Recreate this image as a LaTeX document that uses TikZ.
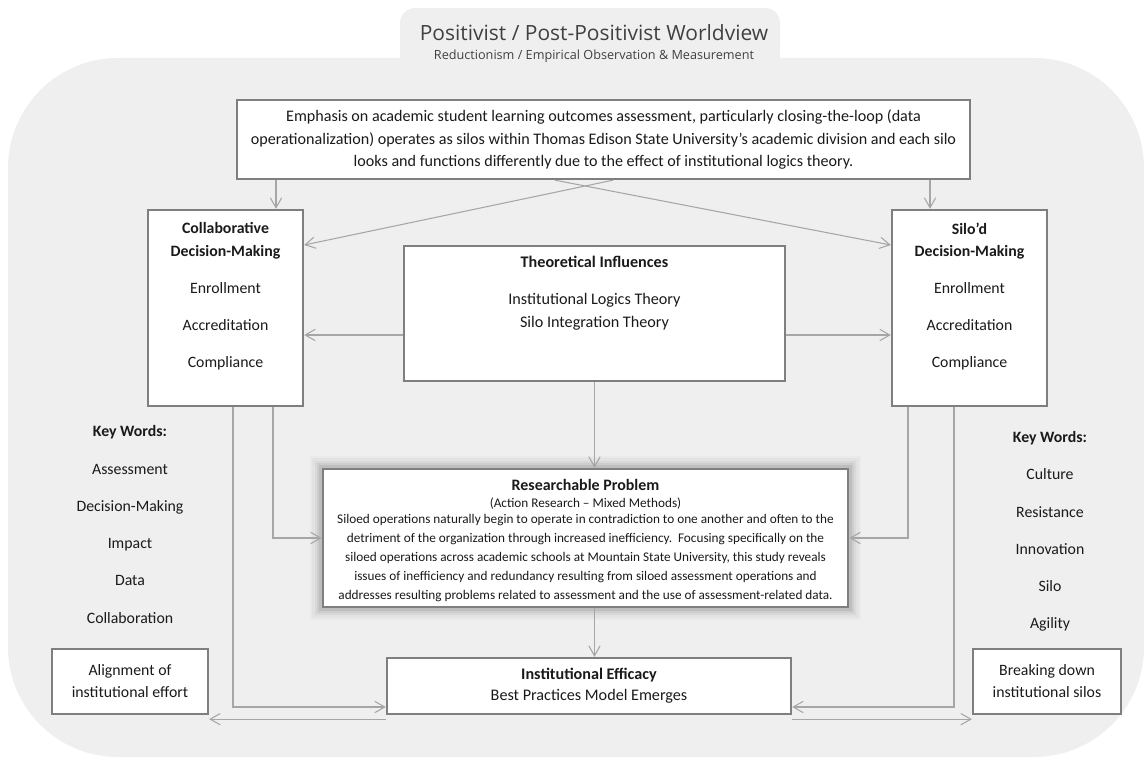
\documentclass[tikz,border=0pt]{standalone}
\usepackage{fontspec}
\setmainfont{Carlito}
\newfontfamily\headfont{Open Sans}
\usetikzlibrary{arrows.meta,positioning,calc}

\definecolor{bggray}{HTML}{EFEFEF}
\definecolor{framegray}{HTML}{7F7F7F}
\definecolor{linegray}{HTML}{A6A6A6}
\definecolor{txtgray}{HTML}{1A1A1A}
\definecolor{headgray}{HTML}{404040}

\tikzset{
  box/.style={draw=framegray, line width=2pt, fill=white, text=txtgray, align=center, inner sep=0pt},
  arr/.style={draw=linegray, line width=0.9pt, -{Straight Barb[length=3mm,width=3.4mm]}},
  shadowed/.style={preaction={draw=black, draw opacity=0.02, line width=22pt},
                   preaction={draw=black, draw opacity=0.03, line width=18pt},
                   preaction={draw=black, draw opacity=0.04, line width=14pt},
                   preaction={draw=black, draw opacity=0.05, line width=10pt},
                   preaction={draw=black, draw opacity=0.07, line width=6pt}},
  keys/.style={align=center, text=txtgray, font=\fontsize{13.5}{31.8}\selectfont}
}

\begin{document}
\begin{tikzpicture}[x=0.03cm, y=0.03cm]
  \useasboundingbox (0,0) rectangle (1144,-765);
  % background
  \fill[bggray, rounded corners=0.45cm] (400,-70) rectangle (780,-8);
  \fill[bggray, rounded corners=3.3cm] (8,-58) rectangle (1144,-757);

  \node (title) [font=\headfont\fontsize{17.9}{21}\selectfont, text=headgray] at (594,-33) {Positivist / Post-Positivist Worldview};
  \node (subtitle) [font=\headfont\fontsize{10.8}{12}\selectfont, text=headgray] at (594,-56) {Reductionism / Empirical Observation \& Measurement};

  % boxes
  \node (top) [box, minimum width=22cm, minimum height=2.37cm, font=\fontsize{13.75}{18.8}\selectfont] at (603.5,-139.5)
    {Emphasis on academic student learning outcomes assessment, particularly closing-the-loop (data\\
     operationalization) operates as silos within Thomas Edison State University’s academic division and each silo\\
     looks and functions differently due to the effect of institutional logics theory.};

  \node (collab) [box, minimum width=4.65cm, minimum height=5.88cm] at (225.5,-308)
    {\parbox[c][5.6cm][t]{4.5cm}{\centering\fontsize{13.5}{18.8}\selectfont\vspace*{7pt}
     \textbf{Collaborative}\\ \textbf{Decision-Making}\\[12.8pt] Enrollment\\[12.8pt] Accreditation\\[12.8pt] Compliance}};

  \node (silod) [box, minimum width=4.65cm, minimum height=5.88cm] at (969.5,-308)
    {\parbox[c][5.6cm][t]{4.5cm}{\centering\fontsize{13.5}{18.8}\selectfont\vspace*{7pt}
     \textbf{Silo’d}\\ \textbf{Decision-Making}\\[12.8pt] Enrollment\\[12.8pt] Accreditation\\[12.8pt] Compliance}};

  \node (theory) [box, minimum width=11.43cm, minimum height=4.05cm] at (594.5,-313.5)
    {\parbox[c][3.8cm][t]{11cm}{\centering\fontsize{13.8}{19.6}\selectfont\vspace*{5pt}
     \textbf{Theoretical Influences}\\[12pt] Institutional Logics Theory\\ Silo Integration Theory}};

  \node (research) [box, shadowed, minimum width=15.75cm, minimum height=4.14cm] at (585.5,-538)
    {\parbox[c][3.9cm][t]{15.5cm}{\centering\fontsize{11.3}{16.2}\selectfont\vspace*{5pt}
     {\fontsize{13.6}{14}\selectfont\textbf{Researchable Problem}}\\[-1pt]
     (Action Research – Mixed Methods)\\[-3pt]
     Siloed operations naturally begin to operate in contradiction to one another and often to the\\
     detriment of the organization through increased inefficiency.\ \ Focusing specifically on the\\
     siloed operations across academic schools at Mountain State University, this study reveals\\
     issues of inefficiency and redundancy resulting from siloed assessment operations and\\
     addresses resulting problems related to assessment and the use of assessment-related data.}};

  \node (efficacy) [box, minimum width=12.12cm, minimum height=1.68cm, font=\fontsize{13.8}{18}\selectfont] at (589,-686)
    {\textbf{Institutional Efficacy}\\ Best Practices Model Emerges};

  \node (align) [box, minimum width=4.68cm, minimum height=1.95cm, font=\fontsize{13.5}{18.8}\selectfont] at (130,-681.5)
    {Alignment of\\ institutional effort};
  \node (breaking) [box, minimum width=4.44cm, minimum height=1.95cm, font=\fontsize{13.5}{18.8}\selectfont] at (1047,-681.5)
    {Breaking down\\ institutional silos};

  % key words
  \node (keysL) [keys] at (130,-524.5) {\textbf{Key Words:}\\ Assessment\\ Decision-Making\\ Impact\\ Data\\ Collaboration};
  \node (keysR) [keys] at (1050,-531.5) {\textbf{Key Words:}\\ Culture\\ Resistance\\ Innovation\\ Silo\\ Agility};

  % connectors
  \coordinate (c1) at ($(collab.north)+(50.5,0)$);
  \coordinate (c2) at ($(silod.north)+(-39.5,0)$);
  \draw[arr] (top.south -| c1) -- (c1);
  \draw[arr] (top.south -| c2) -- (c2);
  \draw[arr] ($(top.south)+(9.5,0)$) -- ($(collab.east)+(0,63)$);
  \draw[arr] ($(top.south)+(-48.5,0)$) -- ($(silod.west)+(0,63)$);

  \coordinate (tw) at ($(theory.west)+(0,-21.5)$);
  \coordinate (te) at ($(theory.east)+(0,-21.5)$);
  \draw[arr] (tw) -- (tw -| collab.east);
  \draw[arr] (te) -- (te -| silod.west);
  \draw[arr] (theory.south) -- (theory.south |- research.north);
  \draw[arr] (research.south -| theory.south) -- (theory.south |- efficacy.north);

  \coordinate (c3) at ($(collab.south)+(47.5,0)$);
  \coordinate (c4) at ($(collab.south)+(7.5,0)$);
  \coordinate (c5) at ($(silod.south)+(-61.5,0)$);
  \coordinate (c6) at ($(silod.south)+(-15.5,0)$);
  \coordinate (ew) at ($(efficacy.west)+(0,-21)$);
  \coordinate (ee) at ($(efficacy.east)+(0,-21)$);
  \draw[arr] (c3) |- (research.west);
  \draw[arr] (c4) |- (ew);
  \draw[arr] (c5) |- (research.east);
  \draw[arr] (c6) |- (ee);

  \coordinate (bl) at ($(efficacy.south west)+(0,-4)$);
  \coordinate (br) at ($(efficacy.south east)+(0,-4)$);
  \draw[arr] (bl) -- (bl -| align.east);
  \draw[arr] (br) -- (br -| breaking.west);
\end{tikzpicture}
\end{document}
